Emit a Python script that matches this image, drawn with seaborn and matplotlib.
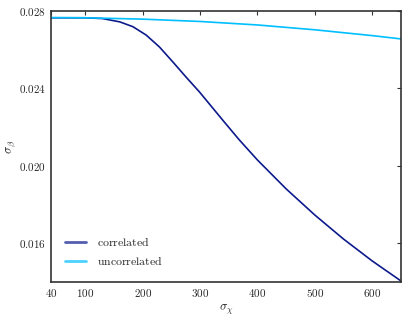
import pandas as pd
import matplotlib
matplotlib.use('Agg')
import matplotlib.pyplot as plt
import seaborn as sns
from matplotlib.ticker import FuncFormatter

# values
corr_x = [40, 100, 130, 160, 183, 206, 229, 252, 275, 299, 316, 340, 368, 400, 450, 500, 550, 600, 650]
correlated = [0.02764, 0.02764, 0.02760, 0.02743, 0.02718, 0.02675, 0.02614, 0.02538, 0.02460,
              0.02381, 0.02320, 0.02234, 0.02135, 0.02030, 0.01881, 0.01746, 0.01622, 0.01509, 0.01406]
unc_x = [40, 100, 200, 300, 400, 500, 600, 650]
uncorrelated = [0.02765, 0.02764, 0.02757, 0.02745, 0.02727, 0.02702, 0.02672, 0.02655]

df = pd.concat([
    pd.DataFrame({'x': corr_x, 'y': correlated, 'kind': r'$\mathrm{correlated}$'}),
    pd.DataFrame({'x': unc_x, 'y': uncorrelated, 'kind': r'$\mathrm{uncorrelated}$'}),
])

sns.set_style('white')
plt.rcParams['mathtext.fontset'] = 'cm'

fig = plt.figure(figsize=(4.07, 3.18), dpi=100)
ax = fig.add_axes([0.125, 0.113, 0.86, 0.853])
sns.lineplot(data=df, x='x', y='y', hue='kind', ax=ax, lw=1.2,
             palette=['#0d1a8c', '#00bfff'], sort=False, estimator=None)

ax.set_xlim(40, 650)
ax.set_ylim(0.014, 0.028)
ax.set_xticks([40, 100, 200, 300, 400, 500, 600])
ax.set_yticks([0.016, 0.020, 0.024, 0.028])
ax.xaxis.set_major_formatter(FuncFormatter(lambda v, p: r'$%d$' % v))
ax.yaxis.set_major_formatter(FuncFormatter(lambda v, p: r'$%.3f$' % v))
ax.tick_params(direction='in', top=True, right=True, length=3, width=0.8,
               labelsize=8, color='#333333', pad=3.5)
for s in ax.spines.values():
    s.set_color('#333333')
    s.set_linewidth(1.2)

ax.set_xlabel(r'$\sigma_\chi$', fontsize=9, labelpad=3)
ax.set_ylabel(r'$\sigma_\beta$', fontsize=9, labelpad=1)

leg = ax.legend(loc='lower left', frameon=False, fontsize=8.5, handlelength=1.8,
                borderaxespad=0.8, handletextpad=0.9, labelspacing=0.5)
for h in leg.get_lines():
    h.set_alpha(0.7)
    h.set_linewidth(2)

fig.savefig('out.png', dpi=100)
